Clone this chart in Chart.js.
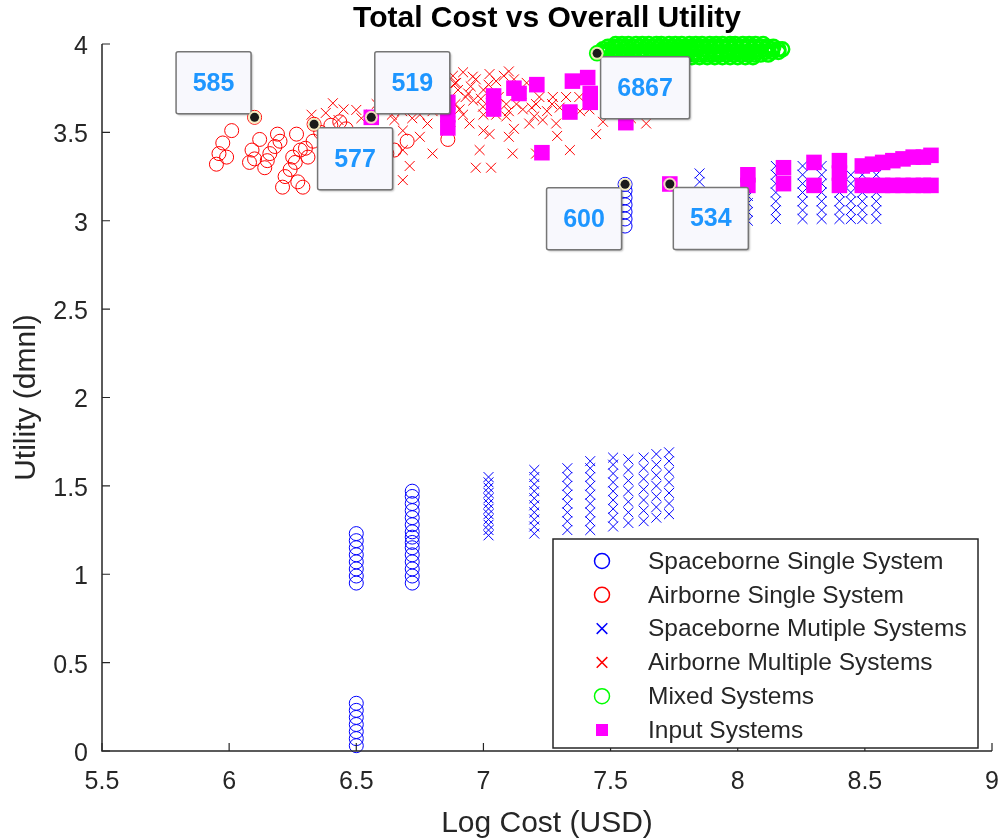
<!DOCTYPE html>
<html>
<head>
<meta charset="utf-8">
<script src="https://cdn.jsdelivr.net/npm/chart.js@4.4.0/dist/chart.umd.min.js"></script>
<style>
  html, body { margin: 0; padding: 0; background: #fff; }
  #wrap { width: 1003px; height: 840px; }
</style>
</head>
<body>
<div id="wrap"><canvas id="chart" width="1003" height="840"></canvas></div>
<script>
// axis ticks
var xTicks = [5.5, 6, 6.5, 7, 7.5, 8, 8.5, 9];
var yTicks = [0, 0.5, 1, 1.5, 2, 2.5, 3, 3.5, 4];

var seriesNames = [
  "Spaceborne Single System",
  "Airborne Single System",
  "Spaceborne Mutiple Systems",
  "Airborne Multiple Systems",
  "Mixed Systems",
  "Input Systems"
];

// [log cost, utility]
var spaceSingle = [
  [6.5,0.03],[6.5,0.07],[6.5,0.11],[6.5,0.15],[6.5,0.19],[6.5,0.23],[6.5,0.27],
  [6.5,0.95],[6.5,0.99],[6.5,1.03],[6.5,1.07],[6.5,1.11],[6.5,1.15],[6.5,1.19],[6.5,1.23],
  [6.72,0.95],[6.72,0.99],[6.72,1.03],[6.72,1.07],[6.72,1.11],[6.72,1.15],[6.72,1.18],[6.72,1.21],
  [6.72,1.24],[6.72,1.28],[6.72,1.32],[6.72,1.36],[6.72,1.40],[6.72,1.44],[6.72,1.47],
  [7.557,2.97],[7.557,3.01],[7.557,3.05],[7.557,3.09],[7.557,3.13],[7.557,3.17],[7.557,3.206]
];

var airSingle = [
  [5.95,3.32],[5.96,3.38],[5.975,3.44],[6.01,3.51],[5.99,3.36],[6.08,3.33],[6.09,3.40],[6.12,3.46],
  [6.10,3.35],[6.15,3.34],[6.16,3.38],[6.18,3.42],[6.19,3.49],[6.20,3.45],[6.14,3.30],[6.21,3.19],
  [6.22,3.25],[6.24,3.29],[6.26,3.33],[6.265,3.49],[6.28,3.40],[6.29,3.19],[6.30,3.41],[6.31,3.36],
  [6.27,3.22],[6.25,3.36],[6.33,3.45],[6.36,3.50],[6.40,3.54],[6.435,3.56],[6.46,3.52],[6.50,3.43],
  [6.55,3.45],[6.62,3.38],[6.65,3.40],[6.70,3.45],[6.86,3.46],[6.10,3.585],[6.334,3.546]
];

var spaceMulti = [
  [7.02,1.22],[7.02,1.25],[7.02,1.28],[7.02,1.31],[7.02,1.34],[7.02,1.37],[7.02,1.40],[7.02,1.43],
  [7.02,1.46],[7.02,1.49],[7.02,1.52],[7.02,1.55],
  [7.20,1.23],[7.20,1.27],[7.20,1.31],[7.20,1.35],[7.20,1.39],[7.20,1.43],[7.20,1.47],[7.20,1.51],
  [7.20,1.55],[7.20,1.59],
  [7.33,1.25],[7.33,1.30],[7.33,1.35],[7.33,1.40],[7.33,1.45],[7.33,1.50],[7.33,1.55],[7.33,1.60],
  [7.42,1.25],[7.42,1.30],[7.42,1.35],[7.42,1.40],[7.42,1.45],[7.42,1.50],[7.42,1.55],[7.42,1.60],[7.42,1.64],
  [7.51,1.27],[7.51,1.32],[7.51,1.37],[7.51,1.42],[7.51,1.47],[7.51,1.52],[7.51,1.57],[7.51,1.62],[7.51,1.66],
  [7.57,1.29],[7.57,1.35],[7.57,1.41],[7.57,1.47],[7.57,1.53],[7.57,1.59],[7.57,1.65],
  [7.63,1.30],[7.63,1.36],[7.63,1.42],[7.63,1.48],[7.63,1.54],[7.63,1.60],[7.63,1.66],
  [7.68,1.32],[7.68,1.38],[7.68,1.44],[7.68,1.50],[7.68,1.56],[7.68,1.62],[7.68,1.68],
  [7.73,1.34],[7.73,1.40],[7.73,1.46],[7.73,1.52],[7.73,1.58],[7.73,1.64],[7.73,1.69],
  [7.85,3.22],[7.85,3.268],
  [8.04,3.00],[8.04,3.05],[8.04,3.10],[8.04,3.14],
  [8.15,3.01],[8.15,3.06],[8.15,3.11],[8.15,3.16],[8.15,3.21],[8.15,3.26],[8.15,3.31],
  [8.255,3.01],[8.255,3.06],[8.255,3.11],[8.255,3.16],[8.255,3.21],[8.255,3.26],[8.255,3.31],
  [8.33,3.01],[8.33,3.06],[8.33,3.11],[8.33,3.16],[8.33,3.21],[8.33,3.26],[8.33,3.31],
  [8.40,3.01],[8.40,3.06],[8.40,3.11],[8.40,3.16],[8.40,3.21],[8.40,3.26],[8.40,3.31],[8.40,3.35],
  [8.445,3.01],[8.445,3.06],[8.445,3.11],[8.445,3.16],[8.445,3.21],[8.445,3.26],
  [8.49,3.01],[8.49,3.06],[8.49,3.11],[8.49,3.16],[8.49,3.21],[8.49,3.26],
  [8.545,3.01],[8.545,3.06],[8.545,3.11],[8.545,3.16],[8.545,3.21],[8.545,3.26]
];

var airMulti = [
  [6.887,3.777],[6.958,3.815],[7.024,3.83],[7.10,3.845],[6.93,3.70],[6.906,3.63],[6.998,3.645],
  [7.09,3.59],[7.155,3.63],[7.207,3.66],[7.273,3.70],[7.325,3.70],[7.377,3.70],[7.417,3.63],
  [7.18,3.55],[7.233,3.57],[7.286,3.55],[6.945,3.55],[7.024,3.49],[7.10,3.475],[6.985,3.40],
  [7.115,3.38],[7.207,3.38],[7.34,3.40],[7.443,3.49],[7.64,3.55],
  [6.408,3.665],[6.324,3.60],[6.50,3.627],[6.683,3.40],[6.80,3.38],[6.71,3.31],[6.683,3.23],
  [6.893,3.78],[6.75,3.475],[6.683,3.51],[6.60,3.64],[6.71,3.665],[6.65,3.57],[6.78,3.73],
  [6.83,3.68],[6.97,3.30],[7.03,3.30],[7.00,3.51],[6.75,3.60],[6.80,3.62],[6.85,3.70],[6.74,3.69],
  [6.82,3.75],[6.90,3.74],[6.95,3.76],[7.05,3.79],[7.00,3.74],[7.06,3.70],[7.15,3.72],[7.25,3.62],
  [7.30,3.64],[7.20,3.59],[6.92,3.60],[6.87,3.56],[6.78,3.55],[6.72,3.58],[6.56,3.60],[6.45,3.63],
  [6.62,3.68],[6.68,3.62],[7.12,3.52],[7.05,3.60],[7.13,3.66],[6.99,3.69],[7.38,3.62],[7.47,3.56],
  [7.58,3.58],[7.29,3.48],
  [6.88,3.82],[6.92,3.84],[6.97,3.80],[7.02,3.77],[7.08,3.82],[7.12,3.80],[7.17,3.78],[6.94,3.72],
  [7.03,3.72],[7.09,3.66],[6.96,3.68],[6.89,3.66],[6.84,3.63],[7.00,3.60],[7.10,3.62],[6.77,3.67],
  [6.70,3.72],[6.64,3.60],[6.58,3.66],[6.52,3.58],[6.43,3.57],[6.38,3.61],[7.22,3.70],[7.27,3.66],
  [7.19,3.64]
];

// mixed systems: a dense band, one x list per utility row
var mixedRowY = [4.00, 3.985, 3.97, 3.955, 3.94, 3.925];
var mixedRowX = [
  [7.52,7.545,7.57,7.60,7.625,7.65,7.68,7.70,7.73,7.755,7.78,7.81,7.835,7.86,7.89,7.915,7.94,7.97,
   7.99,8.02,8.045,8.07,8.10],
  [7.49,7.515,7.54,7.565,7.59,7.615,7.64,7.665,7.69,7.715,7.74,7.765,7.79,7.815,7.84,7.865,7.89,
   7.915,7.94,7.965,7.99,8.015,8.04,8.065,8.09,8.115,8.14],
  [7.47,7.495,7.52,7.55,7.575,7.60,7.63,7.655,7.68,7.71,7.735,7.76,7.79,7.815,7.84,7.87,7.895,7.92,
   7.95,7.975,8.00,8.03,8.055,8.08,8.11,8.135,8.16,8.175],
  [7.46,7.485,7.51,7.535,7.56,7.585,7.61,7.635,7.66,7.685,7.71,7.735,7.76,7.785,7.81,7.835,7.86,
   7.885,7.91,7.935,7.96,7.985,8.01,8.035,8.06,8.085,8.11,8.135,8.16],
  [7.48,7.505,7.53,7.56,7.585,7.61,7.64,7.665,7.69,7.72,7.745,7.77,7.80,7.825,7.85,7.88,7.905,7.93,
   7.96,7.985,8.01,8.04,8.065,8.09,8.12],
  [7.52,7.55,7.58,7.61,7.64,7.67,7.70,7.73,7.76,7.79,7.82,7.85,7.88,7.91,7.94,7.97,8.00,8.03,8.06]
];
var mixedExtra = [[7.447,3.947]];

var inputSys = [
  [6.559,3.585],[6.86,3.525],[6.86,3.60],[6.86,3.67],[7.04,3.632],[7.04,3.706],[7.12,3.75],[7.14,3.72],
  [7.21,3.77],[7.35,3.79],[7.41,3.81],[7.42,3.72],[7.42,3.67],[7.34,3.615],[7.56,3.555],[7.23,3.385],
  [7.733,3.208],[8.04,3.20],[8.04,3.26],[8.18,3.21],[8.18,3.30],[8.30,3.20],[8.30,3.33],[8.40,3.20],
  [8.40,3.34],[8.40,3.27],[8.49,3.20],[8.53,3.20],[8.57,3.20],[8.61,3.20],[8.65,3.20],[8.69,3.20],
  [8.73,3.20],[8.76,3.20],[8.49,3.31],[8.53,3.32],[8.57,3.33],[8.61,3.34],[8.65,3.35],[8.69,3.36],
  [8.73,3.36],[8.76,3.37]
];

// data tips
var tipX = [6.10, 6.334, 6.559, 7.447, 7.557, 7.733];
var tipY = [3.585, 3.546, 3.585, 3.947, 3.206, 3.208];
var tipText = ["585", "577", "519", "6867", "600", "534"];

var FONT = "'Liberation Sans', Arial, Helvetica, sans-serif";
var AXIS_COLOR = "#262626";

function toPoints(arr) {
  return arr.map(function (p) { return { x: p[0], y: p[1] }; });
}

var mixed = mixedExtra.slice();
mixedRowX.forEach(function (row, r) {
  row.forEach(function (x) { mixed.push([x, mixedRowY[r]]); });
});

function makeSet(i, arr, style, color, radius, filled, order, lw) {
  return {
    label: seriesNames[i],
    data: toPoints(arr),
    pointStyle: style,
    pointRadius: radius,
    pointHoverRadius: radius,
    borderWidth: filled ? 0 : lw,
    pointBorderWidth: filled ? 0 : lw,
    borderColor: color,
    pointBorderColor: color,
    backgroundColor: filled ? color : "rgba(0,0,0,0)",
    pointBackgroundColor: filled ? color : "rgba(0,0,0,0)",
    showLine: false,
    clip: false,
    order: order
  };
}

var datasets = [
  makeSet(0, spaceSingle, "circle", "#0000ff", 7, false, 5, 1),
  makeSet(1, airSingle, "circle", "#ff0000", 7, false, 4, 1),
  makeSet(2, spaceMulti, "crossRot", "#0000ff", 7, false, 3, 1),
  makeSet(3, airMulti, "crossRot", "#ff0000", 7, false, 2, 1),
  makeSet(4, mixed, "circle", "#00ff00", 7, false, 1, 2.5),
  makeSet(5, inputSys, "rect", "#ff00ff", 11, true, 0, 0)
];

// matlab style axes: left + bottom line, ticks pointing in
var axesPlugin = {
  id: "matlabAxes",
  afterDatasetsDraw: function (chart) {
    var ctx = chart.ctx, a = chart.chartArea;
    var xs = chart.scales.x, ys = chart.scales.y;
    ctx.save();
    ctx.strokeStyle = AXIS_COLOR;
    ctx.lineWidth = 1.5;
    ctx.beginPath();
    ctx.moveTo(a.left, a.top);
    ctx.lineTo(a.left, a.bottom);
    ctx.lineTo(a.right, a.bottom);
    ctx.stroke();
    ctx.lineWidth = 1.2;
    ctx.beginPath();
    xTicks.forEach(function (v) {
      var px = xs.getPixelForValue(v);
      ctx.moveTo(px, a.bottom);
      ctx.lineTo(px, a.bottom - 8);
    });
    yTicks.forEach(function (v) {
      var py = ys.getPixelForValue(v);
      ctx.moveTo(a.left, py);
      ctx.lineTo(a.left + 8, py);
    });
    ctx.stroke();
    ctx.restore();
  }
};

var titlePlugin = {
  id: "centerTitle",
  afterDraw: function (chart, args, opts) {
    var ctx = chart.ctx, a = chart.chartArea;
    ctx.save();
    ctx.fillStyle = "#000";
    ctx.font = "bold 30px " + FONT;
    ctx.textAlign = "center";
    ctx.textBaseline = "middle";
    ctx.fillText(opts.text, (a.left + a.right) / 2, 19);
    ctx.restore();
  }
};

var tipPlugin = {
  id: "datatips",
  afterDatasetsDraw: function (chart, args, opts) {
    var ctx = chart.ctx;
    var xs = chart.scales.x, ys = chart.scales.y;
    ctx.save();
    ctx.font = "bold 25px " + FONT;
    tipText.forEach(function (t, i) {
      var px = xs.getPixelForValue(tipX[i]);
      var py = ys.getPixelForValue(tipY[i]);
      var w = Math.round(ctx.measureText(t).width) + 33, h = 62;
      var side = opts.sides[i];
      var bx = side[1] === "r" ? px + 3.5 : px - 3.5 - w;
      var by = side[0] === "d" ? py + 3.5 : py - 3.5 - h;

      ctx.save();
      ctx.shadowColor = "rgba(0,0,0,0.3)";
      ctx.shadowOffsetX = 1.5;
      ctx.shadowOffsetY = 1.5;
      ctx.shadowBlur = 2;
      ctx.fillStyle = "#f8f8fd";
      ctx.beginPath();
      ctx.roundRect(bx, by, w, h, 2);
      ctx.fill();
      ctx.restore();
      ctx.strokeStyle = "#767676";
      ctx.lineWidth = 1.5;
      ctx.beginPath();
      ctx.roundRect(bx, by, w, h, 2);
      ctx.stroke();

      ctx.fillStyle = "#1e96ff";
      ctx.textAlign = "center";
      ctx.textBaseline = "middle";
      ctx.fillText(t, bx + w / 2, by + h / 2 + 1);

      ctx.fillStyle = "rgba(245,236,190,0.9)";
      ctx.beginPath();
      ctx.arc(px, py, 6.5, 0, Math.PI * 2);
      ctx.fill();
      ctx.fillStyle = "#1a1a1a";
      ctx.beginPath();
      ctx.arc(px, py, 4.5, 0, Math.PI * 2);
      ctx.fill();
    });
    ctx.restore();
  }
};

var legendPlugin = {
  id: "boxLegend",
  afterDraw: function (chart, args, opts) {
    var ctx = chart.ctx;
    var b = opts.box;
    ctx.save();
    ctx.fillStyle = "#fff";
    ctx.fillRect(b.x, b.y, b.w, b.h);
    ctx.strokeStyle = AXIS_COLOR;
    ctx.lineWidth = 1.5;
    ctx.strokeRect(b.x, b.y, b.w, b.h);
    ctx.font = "24.5px " + FONT;
    ctx.textAlign = "left";
    ctx.textBaseline = "middle";
    chart.data.datasets.forEach(function (ds, i) {
      var y = b.y + opts.firstRow + i * opts.rowGap;
      ctx.strokeStyle = ds.borderColor;
      ctx.fillStyle = ds.backgroundColor;
      var r = ds.pointStyle === "rect" ? 8.5 : 7.5;
      Chart.helpers.drawPoint(ctx, {
        pointStyle: ds.pointStyle, radius: r, rotation: 0, borderWidth: ds.borderWidth ? 1 : 0
      }, b.x + opts.markerX, y);
      ctx.fillStyle = AXIS_COLOR;
      ctx.fillText(ds.label, b.x + opts.textX, y + 1);
    });
    ctx.restore();
  }
};

var chart = new Chart(document.getElementById("chart"), {
  type: "scatter",
  data: { datasets: datasets },
  plugins: [axesPlugin, tipPlugin, titlePlugin, legendPlugin],
  options: {
    responsive: false,
    devicePixelRatio: 1,
    animation: false,
    events: [],
    layout: { padding: { top: 44, right: 10, left: 0, bottom: 0 } },
    plugins: {
      legend: { display: false },
      tooltip: { enabled: false },
      centerTitle: { text: "Total Cost vs Overall Utility" },
      datatips: { sides: ["ul", "dr", "ur", "dr", "dl", "dr"] },
      boxLegend: {
        box: { x: 553, y: 539, w: 425, h: 209 },
        firstRow: 22, rowGap: 33.8, markerX: 49, textX: 95
      }
    },
    scales: {
      x: {
        type: "linear",
        min: 5.5,
        max: 9,
        grid: { display: false, drawTicks: false },
        border: { display: false },
        afterBuildTicks: function (s) { s.ticks = xTicks.map(function (v) { return { value: v }; }); },
        afterFit: function (s) { s.height = 89; s.paddingLeft = 0; s.paddingRight = 0; },
        ticks: {
          color: AXIS_COLOR,
          padding: 16,
          font: { family: FONT, size: 25 },
          maxRotation: 0,
          callback: function (v) { return String(v); }
        },
        title: {
          display: true,
          text: "Log Cost (USD)",
          color: AXIS_COLOR,
          font: { family: FONT, size: 30 },
          padding: { top: 0, bottom: -2 }
        }
      },
      y: {
        type: "linear",
        min: 0,
        max: 4,
        grid: { display: false, drawTicks: false },
        border: { display: false },
        afterBuildTicks: function (s) { s.ticks = yTicks.map(function (v) { return { value: v }; }); },
        afterFit: function (s) { s.width = 102; s.paddingTop = 0; s.paddingBottom = 0; },
        ticks: {
          color: AXIS_COLOR,
          padding: 14,
          labelOffset: 3,
          font: { family: FONT, size: 25 },
          callback: function (v) { return String(v); }
        },
        title: {
          display: true,
          text: "Utility (dmnl)",
          color: AXIS_COLOR,
          font: { family: FONT, size: 30 },
          padding: { top: 9, bottom: 0 }
        }
      }
    }
  }
});
</script>
</body>
</html>
